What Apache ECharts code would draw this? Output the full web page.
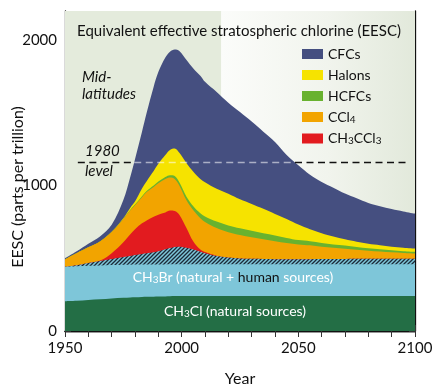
<!DOCTYPE html>
<html><head><meta charset="utf-8">
<script src="https://cdn.jsdelivr.net/npm/echarts@6/dist/echarts.min.js"></script>
<style>html,body{margin:0;padding:0;background:#fff}#c{width:437px;height:391px}</style>
</head><body><div id="c"></div>
<script>
// ---- data (EESC contributions, parts per trillion) ----
const years    = [1950,1955,1960,1965,1970,1975,1978,1980,1983,1985,1988,1990,1993,1995,1997,1999,2002,2005,2008,2010,2015,2020,2025,2030,2035,2040,2045,2050,2055,2060,2065,2070,2075,2080,2085,2090,2095,2100];
const ch3cl    = [205,208,213,218,224,229,231,232,234,235,236,237,238,239,240,240,240,240,240,240,240,240,240,240,240,240,240,240,240,240,240,240,240,240,240,240,240,240];
const ch3brNat = [236,237,235,233,229,226,225,225,223,223,222,221,220,220,219,219,219,219,219,219,219,219,219,219,219,219,219,219,219,219,219,219,219,219,219,219,219,219];
const ch3brHum = [0,7,20,31,42,53,60,65,73,77,84,90,104,111,119,121,113,101,86,76,56,46,40,37,36,35,35,35,35,36,36,36,37,37,37,38,38,38];
const ch3ccl3  = [0,0,0,2,40,102,149,178,210,225,243,252,253,258,247,220,138,55,15,8,3,0,0,0,0,0,0,0,0,0,0,0,0,0,0,0,0,0];
const ccl4     = [52,83,107,131,145,160,165,165,180,195,205,215,230,227,220,200,190,215,215,207,190,174,161,149,135,123,111,101,95,85,77,70,62,55,50,44,40,36];
const hcfcs    = [0,0,0,1,1,2,3,4,6,8,10,12,13,15,20,22,25,28,35,38,44,47,46,44,42,40,35,30,28,25,23,22,20,18,16,14,12,11];
const halons   = [0,0,0,0,1,3,15,21,54,67,100,123,152,175,190,203,230,237,235,235,226,217,199,184,168,148,130,107,83,67,55,43,36,31,28,25,24,23];
const cfcs     = [7,13,25,34,48,125,212,290,390,470,580,630,670,675,680,700,710,710,710,690,665,626,600,567,530,495,440,408,375,353,335,315,298,280,268,258,249,240];
const level1980 = 1160;
const levelSpan = [1955.5, 2096];
const shadeSplitYear = 2017;
const xTicks = [1950, 2000, 2050, 2100];
const yTicks = [0, 1000, 2000];

const FONT = 'Lato';
const chart = echarts.init(document.getElementById('c'), null, {renderer:'canvas'});

// hatch pattern for the human part of CH3Br
const pat = document.createElement('canvas');
pat.width = 4; pat.height = 4;
const g = pat.getContext('2d');
g.fillStyle = '#7ec6d9'; g.fillRect(0,0,4,4);
g.strokeStyle = '#1c2a38'; g.lineWidth = 1.3;
g.beginPath(); g.moveTo(-1,5); g.lineTo(5,-1); g.moveTo(-1,1); g.lineTo(1,-1); g.moveTo(3,5); g.lineTo(5,3); g.stroke();

const layers = [
  {name:'CH3Cl', arr:ch3cl, color:'#236e45'},
  {name:'CH3Br natural', arr:ch3brNat, color:'#7ec6d9'},
  {name:'CH3Br human', arr:ch3brHum, color:'#7ec6d9', fill:{image:pat, repeat:'repeat'}},
  {name:'CH3CCl3', arr:ch3ccl3, color:'#e21b1f'},
  {name:'CCl4', arr:ccl4, color:'#f2a400'},
  {name:'HCFCs', arr:hcfcs, color:'#68b22f'},
  {name:'Halons', arr:halons, color:'#f6e300'},
  {name:'CFCs', arr:cfcs, color:'#454f80'}
];
let run = years.map(()=>0);
layers.forEach(L=>{ run = run.map((v,i)=>v+L.arr[i]); L.top = run.slice(); });
const total = run;

// where the total crosses the 1980 level
let xa = null, xb = null;
for (let i=1;i<years.length;i++){
  const a = total[i-1]-level1980, b = total[i]-level1980;
  if (a<0 && b>=0 && xa===null) xa = years[i-1] + (years[i]-years[i-1])*(-a)/(b-a);
  if (a>=0 && b<0) xb = years[i-1] + (years[i]-years[i-1])*(a)/(a-b);
}

const ordered = layers.slice().reverse();
const areaSeries = ordered.map((L,k)=>({
  id:'s'+k, name:L.name, type:'line', data: years.map((y,i)=>[y, L.top[i]]),
  symbol:'none', smooth:0.35, lineStyle:{width:0}, itemStyle:{color:L.color},
  areaStyle:{color:L.fill||L.color, opacity:1}, z:3+k, silent:true
}));
areaSeries[0].markArea = {silent:true, itemStyle:{opacity:1}, data:[
  [{xAxis:1950, itemStyle:{color:'#e4ebdc'}},{xAxis:shadeSplitYear}],
  [{xAxis:shadeSplitYear, itemStyle:{color:{type:'linear',x:0,y:0,x2:1,y2:0,colorStops:[
    {offset:0,color:'#fbfcfa'},{offset:0.55,color:'#f1f4ed'},{offset:1,color:'#e2e9db'}]}}},{xAxis:2100}]
]};
const dashSegs = [];
const lightSegs = [];
if (xa!==null && xb!==null) {
  dashSegs.push([{coord:[levelSpan[0], level1980]},{coord:[xa, level1980]}]);
  dashSegs.push([{coord:[xb, level1980]},{coord:[levelSpan[1], level1980]}]);
  lightSegs.push([{coord:[xa, level1980]},{coord:[xb, level1980]}]);
} else {
  dashSegs.push([{coord:[levelSpan[0], level1980]},{coord:[levelSpan[1], level1980]}]);
}
areaSeries[0].markLine = {silent:true, symbol:'none', label:{show:false}, animation:false,
  lineStyle:{color:'#111', type:[7,4.5], width:1.3}, data:dashSegs};
areaSeries[1].markLine = {silent:true, symbol:'none', label:{show:false}, animation:false,
  lineStyle:{color:'rgba(255,255,255,0.55)', type:[7,4.5], width:1.3}, data:lightSegs};

const legendRich = {
  a:{fontSize:14, fontFamily:FONT, color:'#111'},
  s:{fontSize:10, fontFamily:FONT, color:'#111', padding:[5,0,0,0]}
};
const legendNames = {
  'CFCs':'{a|CFCs}', 'Halons':'{a|Halons}', 'HCFCs':'{a|HCFCs}',
  'CCl4':'{a|CCl}{s|4}', 'CH3CCl3':'{a|CH}{s|3}{a|CCl}{s|3}'
};

const axisBase = {
  axisLine:{show:true, lineStyle:{color:'#111', width:1.3}},
  axisTick:{inside:true, length:6, lineStyle:{color:'#333', width:1}},
  splitLine:{show:false}
};

const option = {
  animation:false,
  backgroundColor:'#fff',
  grid:{left:65, right:22, top:11, bottom:60, containLabel:false},
  xAxis:[Object.assign({
    type:'value', min:1950, max:2100, interval:10,
    axisLabel:{margin:10, fontSize:15, fontFamily:FONT, color:'#111',
      formatter:v=> xTicks.includes(v)? String(v):''}
  }, axisBase), Object.assign({
    type:'value', position:'top', min:1950, max:2100, interval:10, axisLabel:{show:false}
  }, axisBase)],
  yAxis:[Object.assign({
    type:'value', min:0, max:2200, interval:200,
    axisLabel:{margin:8, fontSize:15, fontFamily:FONT, color:'#111',
      formatter:v=> yTicks.includes(v)? String(v):''}
  }, axisBase), Object.assign({
    type:'value', position:'right', min:0, max:2200, interval:200, axisLabel:{show:false}
  }, axisBase)],
  legend:{
    data:['CFCs','Halons','HCFCs','CCl4','CH3CCl3'],
    orient:'vertical', left:297, top:42, icon:'rect',
    itemWidth:21, itemHeight:10, itemGap:7,
    selectedMode:false,
    textStyle:{rich:legendRich, fontFamily:FONT, fontSize:14, color:'#111'},
    formatter:n=>legendNames[n]
  },
  series: areaSeries,
  graphic:[
    {type:'text', x:239, y:31, z:100, style:{text:'Equivalent effective stratospheric chlorine (EESC)', font:'15px '+FONT, fill:'#111', align:'center', verticalAlign:'middle'}},
    {type:'text', x:82, y:70, z:100, style:{text:'Mid-', font:'italic 15px '+FONT, fill:'#111'}},
    {type:'text', x:82, y:87, z:100, style:{text:'latitudes', font:'italic 15px '+FONT, fill:'#111'}},
    {type:'text', x:85, y:144, z:100, style:{text:'1980', font:'italic 15px '+FONT, fill:'#111'}},
    {type:'text', x:85, y:164, z:100, style:{text:'level', font:'italic 15px '+FONT, fill:'#111'}},
    {type:'text', x:233, y:277, z:100, style:{
      text:'{w|CH}{ws|3}{w|Br (natural + }{k|human}{w| sources)}', align:'center', verticalAlign:'middle',
      rich:{w:{fontSize:14, fontFamily:FONT, fill:'#fff'}, k:{fontSize:14, fontFamily:FONT, fill:'#111'},
            ws:{fontSize:10, fontFamily:FONT, fill:'#fff', padding:[5,0,0,0]}}}},
    {type:'text', x:235, y:311, z:100, style:{
      text:'{w|CH}{ws|3}{w|Cl (natural sources)}', align:'center', verticalAlign:'middle',
      rich:{w:{fontSize:14, fontFamily:FONT, fill:'#fff'}, ws:{fontSize:10, fontFamily:FONT, fill:'#fff', padding:[5,0,0,0]}}}},
    {type:'text', x:240, y:379, z:100, style:{text:'Year', font:'16px '+FONT, fill:'#111', align:'center', verticalAlign:'middle'}},
    {type:'text', x:18, y:187, rotation:Math.PI/2, z:100, style:{text:'EESC (parts per trillion)', font:'16px '+FONT, fill:'#111', align:'center', verticalAlign:'middle'}}
  ]
};
chart.setOption(option);
</script></body></html>
